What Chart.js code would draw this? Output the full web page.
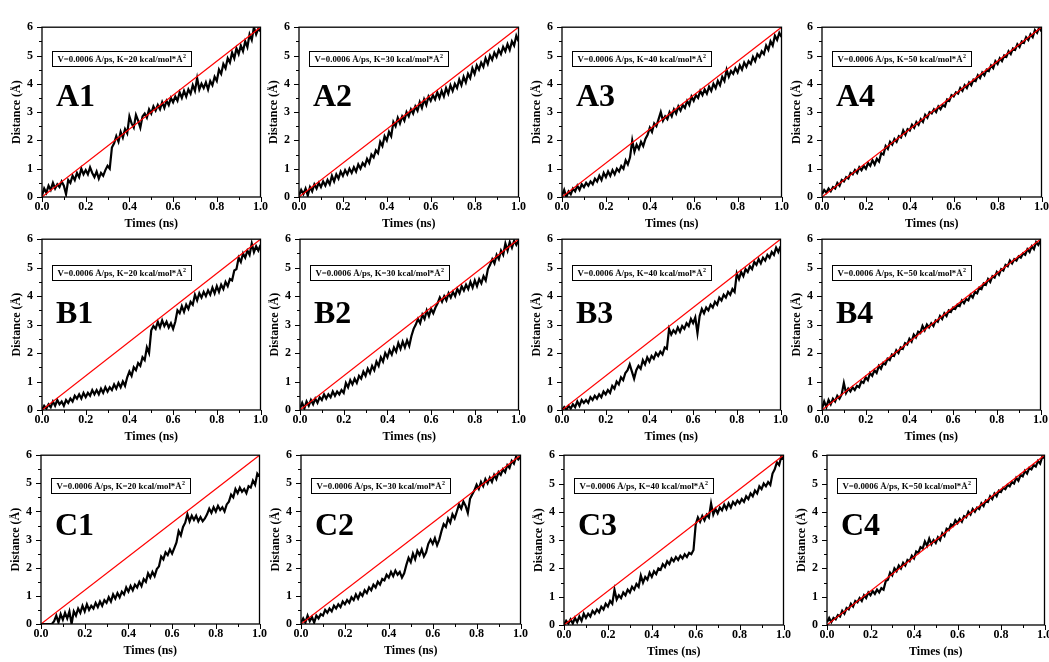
<!DOCTYPE html>
<html>
<head>
<meta charset="utf-8">
<title>SMD pulling distance</title>
<script src="https://cdn.jsdelivr.net/npm/chart.js@4.4.1/dist/chart.umd.min.js"></script>
<style>
  html, body { margin: 0; padding: 0; background: #fff; overflow: hidden; }
  body { width: 1049px; height: 662px; position: relative; }
  canvas.panel { position: absolute; }
</style>
</head>
<body>
<script>
// sampling times (ns), shared by every trajectory
const times = [0,0.01,0.02,0.03,0.04,0.05,0.06,0.07,0.08,0.09,
  0.1,0.11,0.12,0.13,0.14,0.15,0.16,0.17,0.18,0.19,
  0.2,0.21,0.22,0.23,0.24,0.25,0.26,0.27,0.28,0.29,
  0.3,0.31,0.32,0.33,0.34,0.35,0.36,0.37,0.38,0.39,
  0.4,0.41,0.42,0.43,0.44,0.45,0.46,0.47,0.48,0.49,
  0.5,0.51,0.52,0.53,0.54,0.55,0.56,0.57,0.58,0.59,
  0.6,0.61,0.62,0.63,0.64,0.65,0.66,0.67,0.68,0.69,
  0.7,0.71,0.72,0.73,0.74,0.75,0.76,0.77,0.78,0.79,
  0.8,0.81,0.82,0.83,0.84,0.85,0.86,0.87,0.88,0.89,
  0.9,0.91,0.92,0.93,0.94,0.95,0.96,0.97,0.98,0.99,1];

// pulled distance (Å) per run
const distA1 = [0.05,0.30,0.15,0.40,0.25,0.50,0.30,0.45,0.35,0.55,
  0.40,0.10,0.60,0.50,0.75,0.60,0.85,0.70,1.00,0.80,
  0.95,0.80,1.05,0.85,0.70,0.90,0.65,0.85,0.75,0.95,
  1.10,1.00,1.75,1.90,2.15,1.95,2.30,2.10,2.40,2.25,
  2.85,2.60,2.45,2.90,2.70,2.45,2.85,2.95,2.80,3.10,
  2.95,3.20,3.05,3.25,3.10,3.35,3.15,3.40,3.25,3.50,
  3.35,3.55,3.40,3.70,3.50,3.75,3.55,3.80,3.65,3.95,
  3.75,4.20,3.80,4.00,3.85,4.05,3.80,4.10,3.95,4.25,
  4.10,4.50,4.35,4.70,4.55,4.90,4.75,5.10,4.90,5.25,
  5.05,5.35,5.15,5.50,5.30,5.75,5.55,6.00,5.75,5.95,
  5.85];
const distA2 = [0.05,0.25,0.10,0.30,0.05,0.35,0.20,0.45,0.30,0.50,
  0.35,0.55,0.40,0.60,0.45,0.75,0.55,0.80,0.65,0.90,
  0.75,0.95,0.80,1.00,0.85,1.05,0.90,1.15,1.00,1.20,
  1.10,1.35,1.20,1.50,1.40,1.65,1.55,1.95,1.80,2.15,
  2.00,2.30,2.15,2.65,2.50,2.80,2.60,2.85,2.70,3.00,
  2.85,3.10,2.95,3.20,3.05,3.35,3.15,3.45,3.25,3.55,
  3.40,3.60,3.45,3.70,3.50,3.75,3.55,3.85,3.65,3.95,
  3.75,4.00,3.85,4.15,3.95,4.25,4.05,4.35,4.20,4.55,
  4.35,4.65,4.50,4.75,4.60,4.90,4.70,5.00,4.85,5.10,
  4.95,5.20,5.05,5.30,5.15,5.40,5.20,5.50,5.35,5.70,
  5.50];
const distA3 = [0.05,0.25,0.00,0.20,0.10,0.30,0.20,0.40,0.25,0.45,
  0.35,0.50,0.40,0.55,0.45,0.65,0.55,0.75,0.60,0.85,
  0.70,0.90,0.75,0.95,0.80,1.00,0.90,1.10,1.00,1.30,
  1.15,1.40,2.00,1.60,1.85,1.70,1.95,1.80,2.05,2.20,
  2.45,2.30,2.60,2.50,2.75,3.00,2.70,2.85,2.75,3.00,
  2.85,3.10,2.95,3.20,3.05,3.25,3.15,3.40,3.25,3.55,
  3.40,3.60,3.50,3.75,3.60,3.80,3.65,3.90,3.75,4.00,
  3.85,4.10,3.95,4.25,4.10,4.50,4.25,4.45,4.35,4.55,
  4.40,4.65,4.50,4.75,4.60,4.80,4.70,4.95,4.80,5.05,
  4.95,5.15,5.05,5.35,5.20,5.50,5.35,5.70,5.55,5.80,
  5.65];
const distA4 = [0.10,0.25,0.15,0.30,0.20,0.35,0.30,0.50,0.40,0.60,
  0.55,0.70,0.65,0.85,0.80,0.95,0.85,1.05,0.95,1.10,
  1.00,1.20,1.10,1.30,1.15,1.35,1.25,1.55,1.50,1.80,
  1.70,1.95,1.85,2.05,1.95,2.15,2.10,2.35,2.20,2.40,
  2.35,2.55,2.45,2.65,2.55,2.75,2.65,2.90,2.80,3.00,
  2.95,3.10,3.00,3.20,3.10,3.25,3.20,3.45,3.40,3.60,
  3.55,3.70,3.65,3.85,3.75,3.95,3.85,4.05,3.95,4.15,
  4.10,4.30,4.20,4.40,4.30,4.50,4.45,4.65,4.55,4.80,
  4.70,4.90,4.80,5.00,4.95,5.15,5.05,5.25,5.20,5.40,
  5.30,5.50,5.45,5.65,5.55,5.75,5.65,5.90,5.80,6.00,
  5.85];
const distB1 = [0.00,0.15,0.05,0.20,0.10,0.30,0.15,0.35,0.20,0.30,
  0.15,0.35,0.25,0.40,0.30,0.50,0.40,0.55,0.40,0.60,
  0.45,0.60,0.50,0.70,0.55,0.70,0.55,0.75,0.60,0.80,
  0.65,0.80,0.70,0.90,0.75,0.95,0.80,1.00,0.85,1.15,
  1.35,1.20,1.50,1.40,1.65,1.55,1.85,1.75,2.20,2.00,
  2.80,2.95,2.85,3.10,2.90,3.15,2.95,3.10,2.90,3.05,
  2.85,3.10,3.50,3.40,3.65,3.45,3.70,3.55,3.80,3.70,
  4.05,3.85,4.10,3.95,4.15,4.00,4.20,4.05,4.30,4.10,
  4.35,4.15,4.40,4.25,4.50,4.35,4.60,4.55,4.90,4.95,
  5.35,5.20,5.50,5.35,5.60,5.45,5.85,5.55,5.75,5.60,
  5.80];
const distB2 = [0.05,0.25,0.05,0.30,0.15,0.35,0.20,0.40,0.25,0.45,
  0.35,0.55,0.40,0.55,0.45,0.65,0.50,0.65,0.55,0.70,
  0.60,0.95,0.80,1.05,0.90,1.10,0.95,1.20,1.10,1.35,
  1.20,1.45,1.30,1.55,1.40,1.70,1.55,1.85,1.70,2.00,
  1.85,2.10,1.95,2.20,2.05,2.35,2.15,2.40,2.20,2.45,
  2.25,2.60,2.85,3.00,3.20,3.05,3.35,3.20,3.50,3.30,
  3.55,3.40,3.60,3.75,3.95,3.80,4.00,3.85,4.10,3.95,
  4.15,4.00,4.25,4.10,4.35,4.20,4.40,4.25,4.50,4.30,
  4.55,4.35,4.60,4.45,4.70,4.55,4.95,5.10,5.30,5.15,
  5.45,5.30,5.60,5.45,5.85,5.60,5.90,5.70,5.95,5.80,
  5.95];
const distB3 = [0.00,0.10,0.00,0.15,0.05,0.20,0.10,0.30,0.15,0.35,
  0.25,0.35,0.25,0.45,0.35,0.50,0.40,0.55,0.45,0.65,
  0.55,0.70,0.60,0.85,0.75,1.00,0.90,1.15,1.05,1.30,
  1.40,1.60,1.35,1.10,1.40,1.55,1.45,1.75,1.60,1.85,
  1.70,1.90,1.80,2.00,1.90,2.05,1.95,2.20,2.15,2.85,
  2.65,2.80,2.70,2.90,2.75,2.95,2.85,3.05,2.95,3.20,
  3.05,3.25,2.70,3.30,3.55,3.40,3.60,3.50,3.70,3.60,
  3.80,3.70,3.95,3.85,4.05,3.95,4.15,4.05,4.25,4.15,
  4.80,4.60,4.85,4.70,4.95,4.85,5.05,4.95,5.20,5.10,
  5.30,5.15,5.35,5.25,5.45,5.35,5.55,5.45,5.70,5.55,
  5.75];
const distB4 = [0.05,0.30,0.10,0.35,0.20,0.40,0.30,0.50,0.40,0.55,
  0.95,0.60,0.75,0.65,0.80,0.70,0.85,0.80,1.00,0.95,
  1.15,1.05,1.30,1.20,1.40,1.30,1.55,1.45,1.65,1.60,
  1.80,1.75,1.95,1.90,2.10,2.00,2.20,2.15,2.35,2.30,
  2.50,2.40,2.65,2.55,2.75,2.70,2.95,2.80,3.00,2.90,
  3.05,2.95,3.15,3.10,3.30,3.20,3.40,3.30,3.50,3.45,
  3.60,3.55,3.70,3.65,3.85,3.75,3.90,3.85,4.05,3.95,
  4.15,4.10,4.30,4.25,4.45,4.40,4.60,4.50,4.70,4.65,
  4.85,4.75,4.95,4.90,5.10,5.05,5.25,5.15,5.30,5.25,
  5.40,5.35,5.50,5.45,5.65,5.55,5.75,5.65,5.90,5.80,
  5.95];
const distC1 = [0.00,0.00,0.00,0.00,0.00,0.00,0.10,0.30,0.05,0.35,
  0.15,0.40,0.20,0.45,0.00,0.45,0.30,0.55,0.40,0.65,
  0.45,0.70,0.50,0.65,0.55,0.75,0.60,0.80,0.65,0.85,
  0.75,0.95,0.80,1.05,0.90,1.10,0.95,1.15,1.05,1.30,
  1.15,1.35,1.20,1.40,1.30,1.50,1.35,1.60,1.50,1.80,
  1.65,1.85,1.70,1.95,2.05,2.40,2.30,2.55,2.45,2.65,
  2.50,2.70,2.90,3.30,3.15,3.45,3.60,3.90,3.65,3.85,
  3.70,3.85,3.65,3.80,3.65,3.75,3.90,4.10,3.95,4.15,
  4.00,4.20,4.05,4.15,4.00,4.25,4.35,4.60,4.50,4.80,
  4.65,4.85,4.70,4.80,4.65,4.90,4.85,5.10,4.95,5.35,
  5.25];
const distC2 = [0.05,0.20,0.05,0.30,0.10,0.25,0.05,0.30,0.20,0.35,
  0.30,0.50,0.40,0.55,0.45,0.65,0.55,0.70,0.60,0.80,
  0.70,0.85,0.75,0.95,0.85,1.05,0.90,1.10,1.00,1.20,
  1.10,1.30,1.20,1.40,1.30,1.50,1.40,1.60,1.55,1.75,
  1.65,1.85,1.70,1.90,1.75,1.85,1.65,1.80,2.10,2.35,
  2.20,2.50,2.30,2.60,2.45,2.65,2.40,2.55,2.85,3.00,
  2.85,3.05,2.80,3.00,3.30,3.55,3.45,3.75,3.60,3.90,
  3.75,4.00,4.25,4.10,4.35,4.20,3.95,4.45,4.60,4.75,
  4.95,4.80,5.05,4.90,5.15,5.00,5.20,5.05,5.30,5.15,
  5.40,5.30,5.50,5.40,5.65,5.55,5.80,5.70,5.95,5.85,
  5.95];
const distC3 = [0.00,0.15,0.05,0.20,0.05,0.25,0.10,0.30,0.15,0.40,
  0.25,0.40,0.30,0.50,0.40,0.55,0.45,0.65,0.55,0.75,
  0.65,0.85,0.75,1.25,0.90,1.05,0.95,1.15,1.05,1.25,
  1.15,1.35,1.25,1.45,1.35,1.75,1.50,1.70,1.60,1.85,
  1.70,1.90,1.80,2.00,1.95,2.15,2.05,2.25,2.15,2.35,
  2.25,2.40,2.30,2.45,2.35,2.50,2.40,2.55,2.50,2.65,
  3.55,3.80,3.65,3.85,3.70,3.90,3.80,4.30,3.90,4.10,
  3.95,4.15,4.05,4.25,4.10,4.30,4.15,4.35,4.25,4.40,
  4.30,4.45,4.35,4.55,4.45,4.65,4.55,4.75,4.65,4.90,
  4.80,5.00,4.90,5.05,4.95,5.35,5.50,5.75,5.65,5.95,
  5.85];
const distC4 = [0.10,0.25,0.10,0.25,0.20,0.35,0.30,0.50,0.40,0.60,
  0.55,0.75,0.65,0.85,0.80,0.95,0.85,1.05,0.95,1.15,
  1.05,1.20,1.10,1.25,1.15,1.30,1.25,1.55,1.60,1.85,
  1.75,2.00,1.90,2.10,2.00,2.20,2.10,2.30,2.25,2.45,
  2.35,2.60,2.55,2.75,2.70,2.95,2.80,3.05,2.85,3.00,
  2.90,3.10,3.00,3.25,3.15,3.40,3.35,3.55,3.50,3.70,
  3.60,3.75,3.65,3.85,3.80,4.00,3.90,4.10,4.00,4.15,
  4.10,4.30,4.20,4.40,4.35,4.55,4.45,4.65,4.55,4.75,
  4.70,4.85,4.80,4.95,4.90,5.05,5.00,5.20,5.10,5.30,
  5.25,5.45,5.35,5.55,5.50,5.65,5.60,5.80,5.70,5.95,
  5.90];

// reference pulling path: 0.0006 Å/ps
const refTimes = [0, 1];
const refDist = [0, 6];

const panelNames = ['A1', 'A2', 'A3', 'A4', 'B1', 'B2', 'B3', 'B4', 'C1', 'C2', 'C3', 'C4'];
const springK = [20, 30, 40, 50, 20, 30, 40, 50, 20, 30, 40, 50];
const traces = [distA1, distA2, distA3, distA4, distB1, distB2, distB3, distB4,
  distC1, distC2, distC3, distC4];
const xTickLabels = ['0.0', '0.2', '0.4', '0.6', '0.8', '1.0'];
const yTickLabels = ['0', '1', '2', '3', '4', '5', '6'];

// ---- layout ----
// plot frame of each panel on the page: [left, top, right, bottom]
const frames = [
  [42, 19, 261, 197], [299, 19, 519, 197], [562, 19, 782, 197], [822, 19, 1042, 197],
  [42, 231, 261, 410], [300, 231, 519, 410], [562, 231, 781, 410], [822, 231, 1041, 410],
  [41, 447, 260, 624], [301, 447, 521, 624], [564, 447, 784, 625], [827, 447, 1045, 625]
];
const boxDy = [24, 26, 23];     // parameter box offset below frame top, per row
const labelDy = [79, 84, 80];   // panel letter baseline below frame top, per row
const Y_AXIS_W = 32;
const X_AXIS_H = 34;
const PAD_TOP = 8;
const PAD_RIGHT = 10;
const SERIF = '"Liberation Serif", "Times New Roman", serif';

Chart.defaults.font.family = SERIF;
Chart.defaults.font.weight = 'bold';
Chart.defaults.color = '#000';

// frame, outward ticks, parameter box and panel letter
const panelDecor = {
  id: 'panelDecor',
  afterDatasetsDraw(chart, args, opts) {
    const { ctx, chartArea: a, scales: { x, y } } = chart;
    ctx.save();
    ctx.strokeStyle = '#000';
    ctx.fillStyle = '#000';
    ctx.lineWidth = 1.3;
    ctx.strokeRect(a.left, a.top, a.right - a.left, a.bottom - a.top);

    ctx.lineWidth = 1;
    ctx.beginPath();
    x.ticks.forEach(t => {
      const px = Math.round(x.getPixelForValue(t.value)) + 0.5;
      const len = Math.round(t.value * 10) % 2 === 0 ? 5 : 3;
      ctx.moveTo(px, a.bottom);
      ctx.lineTo(px, a.bottom + len);
    });
    y.ticks.forEach(t => {
      const py = Math.round(y.getPixelForValue(t.value)) + 0.5;
      const len = Number.isInteger(t.value) ? 5 : 3;
      ctx.moveTo(a.left, py);
      ctx.lineTo(a.left - len, py);
    });
    ctx.stroke();

    const main = 'V=0.0006 Å/ps, K=' + opts.k + ' kcal/mol*Å';
    ctx.font = 'bold 8.8px ' + SERIF;
    const w1 = ctx.measureText(main).width;
    ctx.font = 'bold 6px ' + SERIF;
    const w2 = ctx.measureText('2').width;
    const bx = Math.round(a.left + 10) + 0.5;
    const by = Math.round(a.top + opts.boxDy) + 0.5;
    const bw = Math.round(w1 + w2 + 11);
    ctx.lineWidth = 1;
    ctx.strokeRect(bx, by, bw, 15);
    ctx.textBaseline = 'alphabetic';
    ctx.textAlign = 'left';
    ctx.font = 'bold 8.8px ' + SERIF;
    ctx.fillText(main, bx + 5, by + 10.5);
    ctx.font = 'bold 6px ' + SERIF;
    ctx.fillText('2', bx + 5 + w1 + 0.5, by + 6.5);

    ctx.font = 'bold 32px ' + SERIF;
    ctx.fillText(opts.name, a.left + 14, a.top + opts.labelDy);
    ctx.restore();
  }
};

panelNames.forEach((name, i) => {
  const [l, t, r, b] = frames[i];
  const row = Math.floor(i / 4);
  const canvas = document.createElement('canvas');
  canvas.className = 'panel';
  canvas.width = Y_AXIS_W + (r - l) + PAD_RIGHT;
  canvas.height = PAD_TOP + (b - t) + X_AXIS_H;
  canvas.style.left = (l - Y_AXIS_W) + 'px';
  canvas.style.top = (t - PAD_TOP) + 'px';
  document.body.appendChild(canvas);

  const trace = traces[i].map((d, j) => ({ x: times[j], y: d }));
  const ref = refTimes.map((tm, j) => ({ x: tm, y: refDist[j] }));

  new Chart(canvas, {
    type: 'line',
    data: {
      datasets: [
        { label: 'SMD path', data: ref, borderColor: '#ff0000', borderWidth: 1.2 },
        { label: 'Distance', data: trace, borderColor: '#000', borderWidth: 2.2,
          borderJoinStyle: 'miter' }
      ]
    },
    options: {
      responsive: false,
      animation: false,
      layout: { padding: { top: PAD_TOP, right: PAD_RIGHT, left: 0, bottom: 0 } },
      elements: { point: { radius: 0 }, line: { tension: 0 } },
      plugins: {
        legend: { display: false },
        tooltip: { enabled: false },
        panelDecor: { name: name, k: springK[i], boxDy: boxDy[row], labelDy: labelDy[row] }
      },
      scales: {
        x: {
          type: 'linear', min: 0, max: 1,
          afterFit(scale) { scale.height = X_AXIS_H; },
          grid: { display: false, drawTicks: false },
          border: { display: false },
          ticks: {
            stepSize: 0.1, autoSkip: false, maxRotation: 0, padding: 3,
            color: '#000', font: { size: 12, weight: 'bold' },
            callback: v => {
              const k = Math.round(v * 10);
              return k % 2 === 0 ? xTickLabels[k / 2] : '';
            }
          },
          title: { display: true, text: 'Times (ns)', color: '#000', padding: 0,
            font: { size: 12, weight: 'bold' } }
        },
        y: {
          type: 'linear', min: 0, max: 6,
          afterFit(scale) { scale.width = Y_AXIS_W; },
          grid: { display: false, drawTicks: false },
          border: { display: false },
          ticks: {
            stepSize: 0.5, autoSkip: false, padding: 9,
            color: '#000', font: { size: 12, weight: 'bold' },
            callback: v => Number.isInteger(v) ? yTickLabels[v] : ''
          },
          title: { display: true, text: 'Distance (Å)', color: '#000', padding: 0,
            font: { size: 12, weight: 'bold' } }
        }
      }
    },
    plugins: [panelDecor]
  });
});
</script>
</body>
</html>
